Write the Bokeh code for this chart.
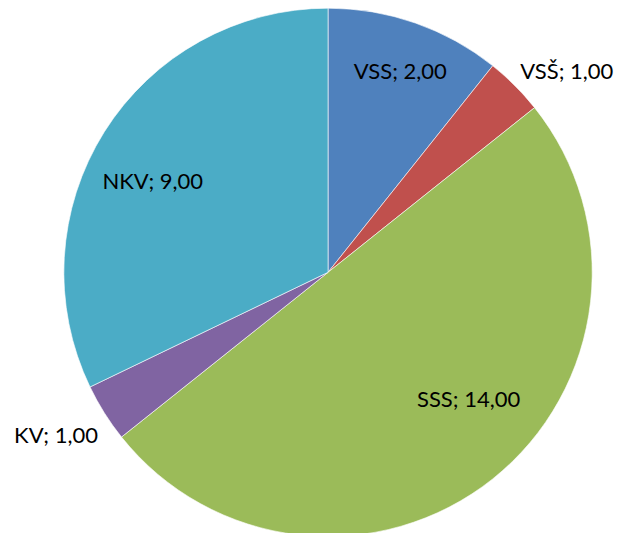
import math
from bokeh.plotting import figure
from bokeh.models import ColumnDataSource, Range1d
from bokeh.core.properties import value
from bokeh.embed import file_html
from bokeh.resources import INLINE

categories = ["VSS", "VSŠ", "SSS", "KV", "NKV"]
# slice sizes as drawn in the picture
values = [3.0, 1.0, 14.0, 1.0, 9.0]
# values as printed in the data labels
label_values = [2.0, 1.0, 14.0, 1.0, 9.0]
colors = ["#4F81BD", "#C0504D", "#9BBB59", "#8064A2", "#4BACC6"]

# label placement: radial factor and angle (deg clockwise from top)
label_rf = [0.815, 1.185, 0.716, 1.2, 0.75]
label_ang = [19.6, 49.7, 132.0, 239.1, 297.8]

W, H = 619, 533
cx, cy, R = 336, -280, 271

total = sum(values)
starts, ends = [], []
cum = 0.0
for v in values:
    a0 = math.pi / 2 - cum / total * 2 * math.pi
    cum += v
    a1 = math.pi / 2 - cum / total * 2 * math.pi
    starts.append(a0)
    ends.append(a1)

src = ColumnDataSource(dict(cat=categories, val=values, color=colors,
                            start=starts, end=ends))

p = figure(width=W, height=H, output_backend="svg", toolbar_location=None,
           x_range=Range1d(0, 635), y_range=Range1d(-549, 0),
           min_border=0, outline_line_color=None)
p.axis.visible = False
p.grid.visible = False
p.background_fill_color = "white"

p.wedge(x=cx, y=cy, radius=R, start_angle="start", end_angle="end",
        direction="clock", fill_color="color", line_color="white",
        line_width=0.6, source=src)

lx, ly, lt = [], [], []
for c, v, rf, ang in zip(categories, label_values, label_rf, label_ang):
    t = math.radians(ang)
    lx.append(cx + rf * R * math.sin(t))
    ly.append(cy + rf * R * math.cos(t))
    lt.append(f"{c}; {v:.2f}".replace(".", ","))

p.text(x=lx, y=ly, text=lt, text_align="center", text_baseline="middle",
       text_font=value("Lato"), text_font_size="22px", text_color="black")

open("out.html", "w").write(file_html(p, INLINE))
